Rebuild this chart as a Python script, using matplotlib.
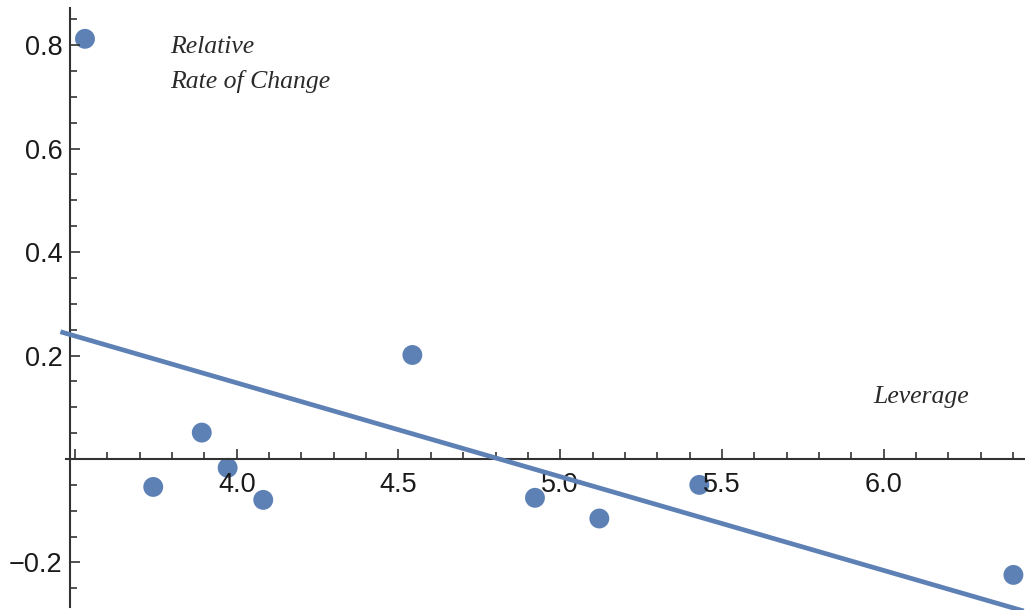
import numpy as np
import matplotlib
matplotlib.use("Agg")
import matplotlib.pyplot as plt
from matplotlib.ticker import FixedLocator, FuncFormatter

# Leverage vs. relative rate of change
leverage = [3.531, 3.742, 3.892, 3.972, 4.082, 4.543, 4.922, 5.121, 5.430, 6.401]
rate_of_change = [0.812, -0.054, 0.051, -0.017, -0.079, 0.201, -0.075, -0.115, -0.050, -0.224]

# least-squares trend line, drawn over this leverage span
fit_span = [3.455, 6.45]

x_major_ticks = [3.5, 4.0, 4.5, 5.0, 5.5, 6.0]
y_major_ticks = [-0.2, 0.0, 0.2, 0.4, 0.6, 0.8]

point_color = "#5e81b5"
axis_color = "#333333"

fig = plt.figure(figsize=(10.25, 6.1), dpi=100)
ax = fig.add_axes([0, 0, 1, 1])
ax.set_xlim(3.2683, 6.4368)
ax.set_ylim(-0.2918, 0.887)
ax.set_axisbelow(False)  # tick labels above the points

# trend line
slope, intercept = np.polyfit(leverage, rate_of_change, 1)
xs = np.array(fit_span)
ax.plot(xs, slope * xs + intercept, color=point_color, lw=3.4,
        solid_capstyle="butt", zorder=3)

# data points
ax.scatter(leverage, rate_of_change, s=205, color=point_color,
           edgecolors="none", zorder=1)

# axes crossing inside the plot
for side in ("top", "right"):
    ax.spines[side].set_visible(False)
ax.spines["left"].set_position(("data", 3.4856))
ax.spines["bottom"].set_position(("data", 0.0))
ax.spines["left"].set_bounds(-0.286, 0.871)
ax.spines["bottom"].set_bounds(3.472, 6.45)
for side in ("left", "bottom"):
    ax.spines[side].set_color(axis_color)
    ax.spines[side].set_linewidth(1.5)

ax.xaxis.set_major_locator(FixedLocator(x_major_ticks))
ax.xaxis.set_minor_locator(FixedLocator(np.round(np.arange(3.5, 6.41, 0.1), 2)))
ax.yaxis.set_major_locator(FixedLocator(y_major_ticks))
ax.yaxis.set_minor_locator(FixedLocator(np.round(np.arange(-0.25, 0.86, 0.05), 2)))


def x_fmt(v, pos):
    return "" if abs(v - 3.5) < 1e-9 else f"{v:.1f}"


def y_fmt(v, pos):
    if abs(v) < 1e-9:
        return ""
    return f"{v:.1f}".replace("-", "\u2212")


ax.xaxis.set_major_formatter(FuncFormatter(x_fmt))
ax.yaxis.set_major_formatter(FuncFormatter(y_fmt))

ax.tick_params(axis="both", which="major", direction="in", length=7.5,
               width=1.2, color=axis_color, labelcolor="#1a1a1a")
ax.tick_params(axis="both", which="minor", direction="in", length=5,
               width=1.2, color=axis_color)
ax.tick_params(axis="x", which="major", pad=9.0)
ax.tick_params(axis="y", which="major", pad=5.5)
for lbl in ax.get_xticklabels() + ax.get_yticklabels():
    lbl.set_fontfamily(["Liberation Sans", "DejaVu Sans"])
    lbl.set_fontsize(19.5)

# axis labels placed next to the axes
label_font = dict(family=["Liberation Serif", "DejaVu Serif"], style="italic",
                  size=18.5, color="#2a2a2a", va="baseline", ha="left")
ax.text(3.794, 0.785, "Relative", **label_font)
ax.text(3.794, 0.717, "Rate of Change", **label_font)
ax.text(5.968, 0.109, "Leverage", **label_font)

fig.savefig("out.png", dpi=100)
